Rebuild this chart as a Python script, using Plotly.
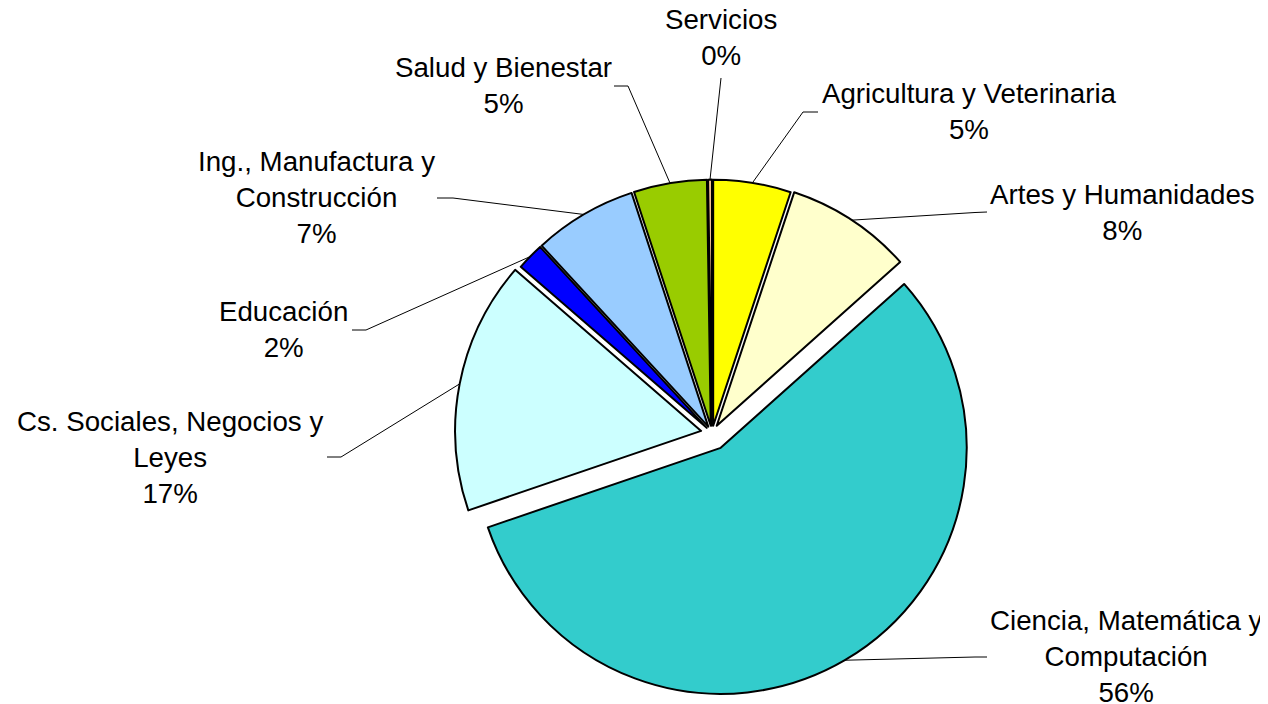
import math
import plotly.graph_objects as go

# ---- data ----
categories = [
    "Agricultura y Veterinaria",
    "Artes y Humanidades",
    "Ciencia, Matemática y Computación",
    "Cs. Sociales, Negocios y Leyes",
    "Educación",
    "Ing., Manufactura y Construcción",
    "Salud y Bienestar",
    "Servicios",
]
values = [5.1, 8.3, 56.4, 16.6, 1.8, 6.8, 4.8, 0.25]

# ---- styling / layout ----
colors = ["#FFFF00", "#FFFFCC", "#33CCCC", "#CCFFFF", "#0000FF", "#99CCFF", "#99CC00", "#FFCC99"]
pulls = [0.03, 0.035, 0.07, 0.045, 0.03, 0.03, 0.03, 0.03]
wrapped = {
    "Ciencia, Matemática y Computación": "Ciencia, Matemática y<br>Computación",
    "Cs. Sociales, Negocios y Leyes": "Cs. Sociales, Negocios y<br>Leyes",
    "Ing., Manufactura y Construcción": "Ing., Manufactura y<br>Construcción",
}
# page offset (body margin of the html page)
OFF = 8
# label centre (px) and leader-line elbow / end near the label (px, screen coords)
label_pos = [(970, 111.5), (1122, 212), (1126, 656), (170, 457), (283, 329.5), (316, 197.5), (503, 85.5), (721, 37.5)]
elbow_pos = [(803, 112), (975, 212.5), (975, 657), (341, 457), (366, 330), (453, 198), (628, 86), (721, 78)]
end_pos = [(818, 112), (987, 212), (987, 657), (327, 457), (352, 330), (437, 198), (614, 86), (721, 78)]

W, H = 1268, 704
CX, CY, R = 712 - OFF, 433 - OFF, 246
half = R * (1 + max(pulls))

def px(x, y):
    return x / W, 1 - y / H

def scr(x, y):
    return px(x - OFF, y - OFF)

dom_x = [(CX - half) / W, (CX + half) / W]
dom_y = [1 - (CY + half) / H, 1 - (CY - half) / H]

fig = go.Figure(go.Pie(
    labels=categories, values=values, sort=False, direction="clockwise", rotation=0,
    pull=pulls, textinfo="none", hoverinfo="label+percent",
    marker=dict(colors=colors, line=dict(color="black", width=2)),
    domain=dict(x=dom_x, y=dom_y), showlegend=False,
))

total = sum(values)
cum = 0.0
shapes, annotations = [], []
for i, (cat, v) in enumerate(zip(categories, values)):
    mid = (cum + v / 2) / total * 2 * math.pi
    cum += v
    rr = R * (1 + pulls[i])
    sx, sy = CX + rr * math.sin(mid), CY - rr * math.cos(mid)
    p1 = px(sx, sy)
    p2 = scr(*elbow_pos[i])
    p3 = scr(*end_pos[i])
    path = f"M {p1[0]},{p1[1]} L {p2[0]},{p2[1]} L {p3[0]},{p3[1]}"
    shapes.append(dict(type="path", xref="paper", yref="paper", path=path,
                       line=dict(color="black", width=1)))
    pct = round(100 * v / total)
    lx, ly = scr(*label_pos[i])
    annotations.append(dict(
        x=lx, y=ly, xref="paper", yref="paper", xanchor="center", yanchor="middle",
        text=f"{wrapped.get(cat, cat)}<br>{pct}%", showarrow=False, align="center",
        font=dict(family="Liberation Sans, Arial, sans-serif", size=27.7, color="black"),
    ))

fig.update_layout(
    width=W, height=H, margin=dict(l=0, r=0, t=0, b=0),
    paper_bgcolor="white", plot_bgcolor="white",
    shapes=shapes, annotations=annotations,
)
fig.write_html("out.html")
